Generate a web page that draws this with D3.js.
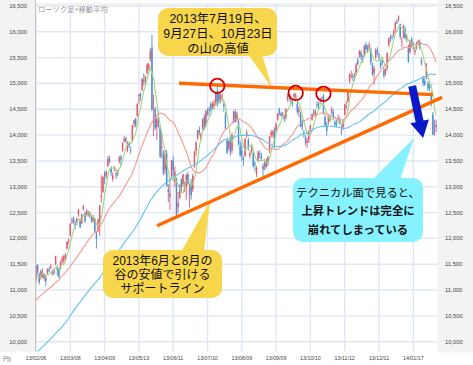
<!DOCTYPE html>
<html><head><meta charset="utf-8">
<script src="https://cdn.jsdelivr.net/npm/d3@7"></script>
<style>body{margin:0;background:#fff}svg{display:block}</style>
</head><body>
<svg id="c" width="473" height="365"></svg>
<script>
// ---- data: Nikkei 225 daily candles [date, open, high, low, close] ----
const candles = [
["13/02/06",11200,11498,11150,11463],["13/02/07",11480,11497,11300,11357],["13/02/08",11300,11340,11110,11153],
["13/02/12",11250,11400,11200,11369],["13/02/13",11330,11420,11230,11251],["13/02/14",11230,11330,11180,11307],
["13/02/15",11250,11300,11080,11173],["13/02/18",11330,11420,11300,11407],["13/02/19",11400,11450,11340,11372],
["13/02/20",11430,11500,11400,11468],["13/02/21",11360,11390,11280,11309],["13/02/22",11330,11420,11290,11385],
["13/02/25",11500,11662,11480,11662],["13/02/26",11450,11480,11280,11398],["13/02/27",11400,11430,11230,11254],
["13/02/28",11420,11565,11400,11559],
["13/03/01",11560,11660,11500,11606],["13/03/04",11580,11680,11520,11652],["13/03/05",11610,11720,11580,11683],
["13/03/06",11800,11950,11790,11932],["13/03/07",11960,12000,11880,11968],["13/03/08",12050,12290,12040,12283],
["13/03/11",12330,12400,12280,12349],["13/03/12",12390,12420,12280,12314],["13/03/13",12280,12340,12180,12239],
["13/03/14",12300,12400,12250,12381],["13/03/15",12460,12560,12420,12560],["13/03/18",12350,12400,12200,12220],
["13/03/19",12300,12480,12280,12468],["13/03/21",12560,12650,12540,12635],["13/03/22",12480,12520,12300,12338],
["13/03/25",12450,12560,12430,12546],["13/03/26",12520,12530,12420,12472],["13/03/27",12450,12520,12400,12494],
["13/03/28",12420,12450,12300,12336],["13/03/29",12340,12430,12310,12397],
["13/04/01",12380,12400,12110,12135],["13/04/02",12100,12150,11805,12003],["13/04/03",12150,12380,12120,12362],
["13/04/04",12280,12650,12050,12634],["13/04/05",12800,13225,12690,12833],["13/04/08",12900,13200,12880,13192],
["13/04/09",13250,13300,13050,13192],["13/04/10",13220,13320,13150,13288],["13/04/11",13400,13600,13380,13549],
["13/04/12",13550,13600,13450,13485],["13/04/15",13350,13400,13200,13275],["13/04/16",13150,13280,13100,13221],
["13/04/17",13350,13400,13300,13382],["13/04/18",13250,13300,13150,13220],["13/04/19",13250,13330,13200,13316],
["13/04/22",13500,13600,13450,13568],["13/04/23",13580,13620,13400,13529],["13/04/24",13700,13860,13680,13843],
["13/04/25",13880,13980,13850,13926],["13/04/26",13940,13970,13850,13884],["13/04/30",13700,13880,13670,13860],
["13/05/01",13830,13860,13750,13799],["13/05/02",13720,13780,13640,13694],["13/05/07",13880,14200,13870,14180],
["13/05/08",14230,14300,14150,14285],["13/05/09",14320,14330,14150,14191],["13/05/10",14380,14610,14350,14607],
["13/05/13",14760,14790,14600,14782],["13/05/14",14800,14830,14660,14758],["13/05/15",14880,15100,14850,15096],
["13/05/16",15070,15200,14960,15037],["13/05/17",15060,15150,14960,15138],["13/05/20",15200,15390,15180,15360],
["13/05/21",15300,15400,15250,15381],["13/05/22",15470,15680,15420,15627],["13/05/23",15700,15942,14484,14483],
["13/05/24",14600,14780,13980,14612],["13/05/27",14500,14550,14100,14142],["13/05/28",14150,14360,13900,14311],
["13/05/29",14350,14470,14150,14326],["13/05/30",14150,14200,13550,13589],["13/05/31",13750,14050,13550,13774],
["13/06/03",13650,13700,13220,13261],["13/06/04",13320,13710,13240,13614],["13/06/05",13640,13711,13000,13014],
["13/06/06",12950,13050,12700,12904],["13/06/07",12800,13150,12548,12877],["13/06/10",13200,13520,13180,13514],
["13/06/11",13500,13600,13200,13317],["13/06/12",13100,13390,13000,13289],["13/06/13",13150,13180,12415,12445],
["13/06/14",12600,12900,12500,12686],["13/06/17",12780,13050,12770,13033],["13/06/18",13150,13160,12900,13007],
["13/06/19",13050,13250,13000,13245],["13/06/20",12950,13100,12900,13014],["13/06/21",13000,13250,12750,13230],
["13/06/24",13250,13290,13030,13062],["13/06/25",12900,13060,12600,12969],["13/06/26",13050,13150,12750,12834],
["13/06/27",12950,13250,12900,13213],["13/06/28",13400,13700,13360,13677],
["13/07/01",13700,13880,13600,13852],["13/07/02",13950,14100,13900,14098],["13/07/03",14100,14170,14000,14055],
["13/07/04",13950,14050,13900,14018],["13/07/05",14150,14320,14100,14309],["13/07/08",14350,14400,14100,14109],
["13/07/09",14200,14480,14150,14472],["13/07/10",14450,14520,14380,14416],["13/07/11",14500,14550,14370,14472],
["13/07/12",14600,14640,14450,14506],["13/07/16",14550,14650,14500,14599],["13/07/17",14550,14680,14500,14615],
["13/07/18",14650,14850,14600,14808],["13/07/19",14850,14953,14550,14589],["13/07/22",14800,14850,14600,14658],
["13/07/23",14700,14800,14620,14778],["13/07/24",14700,14800,14650,14731],["13/07/25",14600,14650,14450,14562],
["13/07/26",14400,14450,14100,14129],["13/07/29",13900,13950,13630,13661],["13/07/30",13750,13900,13700,13869],
["13/07/31",13950,13960,13600,13668],
["13/08/01",13700,14050,13650,14005],["13/08/02",14250,14470,14230,14466],["13/08/05",14450,14500,14250,14258],
["13/08/06",14300,14450,14250,14401],["13/08/07",14250,14300,13800,13825],["13/08/08",13800,13900,13580,13605],
["13/08/09",13700,13850,13500,13615],["13/08/12",13550,13600,13400,13519],["13/08/13",13600,13950,13580,13925],
["13/08/14",14000,14100,13950,14050],["13/08/15",13900,13950,13700,13752],["13/08/16",13600,13700,13550,13650],
["13/08/19",13700,13800,13650,13758],["13/08/20",13650,13700,13380,13397],["13/08/21",13450,13500,13300,13424],
["13/08/22",13250,13400,13188,13366],["13/08/23",13500,13700,13480,13660],["13/08/26",13650,13700,13550,13636],
["13/08/27",13600,13650,13500,13542],["13/08/28",13400,13450,13200,13338],["13/08/29",13380,13500,13320,13459],
["13/08/30",13500,13550,13350,13389],
["13/09/02",13450,13600,13400,13573],["13/09/03",13700,13980,13650,13978],["13/09/04",14000,14100,13950,14053],
["13/09/05",14000,14100,13950,14065],["13/09/06",14100,14150,13750,13860],["13/09/09",14100,14250,14050,14205],
["13/09/10",14300,14430,14280,14423],["13/09/11",14500,14530,14380,14425],["13/09/12",14420,14450,14350,14387],
["13/09/13",14400,14450,14320,14404],["13/09/17",14350,14400,14250,14311],["13/09/18",14350,14520,14300,14505],
["13/09/19",14700,14800,14650,14766],["13/09/20",14780,14800,14650,14742],["13/09/24",14700,14780,14600,14733],
["13/09/25",14650,14700,14550,14620],["13/09/26",14700,14810,14680,14799],["13/09/27",14720,14817,14650,14760],
["13/09/30",14600,14650,14400,14455],
["13/10/01",14450,14550,14350,14484],["13/10/02",14400,14450,14150,14170],["13/10/03",14250,14300,14100,14157],
["13/10/04",14050,14100,13950,14024],["13/10/07",13950,14000,13800,13853],["13/10/08",13850,13950,13750,13894],
["13/10/09",13900,14100,13850,14037],["13/10/10",14100,14200,14050,14194],["13/10/11",14300,14420,14280,14404],
["13/10/15",14450,14500,14380,14441],["13/10/16",14400,14500,14350,14467],["13/10/17",14600,14650,14520,14586],
["13/10/18",14600,14650,14500,14561],["13/10/21",14650,14720,14600,14693],["13/10/22",14700,14750,14650,14713],
["13/10/23",14750,14799,14400,14426],["13/10/24",14350,14400,14150,14200],["13/10/25",14200,14250,13990,14088],
["13/10/28",14250,14400,14200,14396],["13/10/29",14350,14400,14250,14325],["13/10/30",14450,14550,14400,14502],
["13/10/31",14450,14500,14300,14327],
["13/11/01",14250,14300,14150,14201],["13/11/05",14250,14300,14150,14225],["13/11/06",14300,14400,14250,14337],
["13/11/07",14300,14350,14200,14228],["13/11/08",14100,14200,14000,14086],["13/11/11",14150,14300,14100,14269],
["13/11/12",14400,14600,14380,14588],["13/11/13",14550,14650,14500,14567],["13/11/14",14650,14900,14620,14876],
["13/11/15",15050,15200,15000,15165],["13/11/18",15150,15250,15100,15164],["13/11/19",15150,15200,15050,15128],
["13/11/20",15080,15200,15050,15126],["13/11/21",15200,15400,15150,15365],["13/11/22",15450,15500,15350,15381],
["13/11/25",15550,15650,15500,15619],["13/11/26",15600,15650,15450,15515],["13/11/27",15500,15550,15400,15450],
["13/11/28",15550,15750,15520,15727],["13/11/29",15750,15800,15600,15661],
["13/12/02",15700,15750,15600,15655],["13/12/03",15700,15800,15650,15749],["13/12/04",15650,15700,15350,15407],
["13/12/05",15350,15400,15150,15177],["13/12/06",15200,15350,14980,15299],["13/12/09",15500,15680,15480,15650],
["13/12/10",15650,15700,15550,15610],["13/12/11",15550,15600,15450,15515],["13/12/12",15400,15450,15300,15341],
["13/12/13",15450,15500,15350,15403],["13/12/16",15250,15300,15100,15152],["13/12/17",15200,15300,15150,15279],
["13/12/18",15300,15600,15250,15586],["13/12/19",15750,15900,15700,15859],["13/12/20",15900,15950,15800,15870],
["13/12/24",15900,15950,15850,15889],["13/12/25",15950,16050,15900,16009],["13/12/26",16050,16200,16000,16174],
["13/12/27",16200,16250,16150,16178],["13/12/30",16250,16320,16200,16291],
["14/01/06",16150,16160,15850,15908],["14/01/07",15800,15900,15700,15814],["14/01/08",15900,16140,15880,16121],
["14/01/09",16050,16100,15850,15880],["14/01/10",15900,15950,15800,15912],["14/01/14",15700,15750,15400,15422],
["14/01/15",15600,15850,15580,15808],["14/01/16",15850,15900,15700,15747],["14/01/17",15750,15800,15650,15734],
["14/01/20",15600,15700,15550,15641],["14/01/21",15700,15800,15650,15796],["14/01/22",15800,15850,15750,15821],
["14/01/23",15800,15850,15650,15695],["14/01/24",15450,15500,15350,15391],["14/01/27",15100,15150,14950,15006],
["14/01/28",15050,15100,14950,14980],["14/01/29",15100,15400,15080,15384],["14/01/30",15000,15050,14850,14900],
["14/01/31",14950,15000,14850,14915],
["14/02/03",14800,14850,14550,14619],["14/02/04",14400,14450,14000,14008],["14/02/05",14150,14300,13995,14180],
["14/02/06",14200,14300,14050,14155]
];
// closes before the first candle (needed for the moving averages)
const priorCloses = [8701,8806,8982,9002,9010,8931,8955,9055,8933,8929,8841,8928,
 8946,9007,8975,8975,8972,8837,8757,8676,8661,8664,8830,9024,9153,9142,9222,9366,9389,9423,9308,9400,9446,
 9458,9432,9468,9545,9527,9533,9525,9581,9742,9737,9828,9923,10160,10039,9940,10080,10230,10322,10395,
 10688,10599,10508,10578,10652,10801,10879,10600,10610,10913,10747,10709,10487,10620,10926,10824,10866,11113,11138,
 11191,11260,11046];
const maPeriods = [5, 25, 75];
const xTickLabels = ["13/02/06","13/03/08","13/04/09","13/05/13","13/06/11","13/07/10","13/08/09","13/09/09","13/10/10","13/11/12","13/12/11","14/01/17"];
const yTicks = [10000,10500,11000,11500,12000,12500,13000,13500,14000,14500,15000,15500,16000,16500];
// annotation anchors in data coordinates [index, price]
const resistanceLine = [[87.6,15003],[243.1,14783]];
const supportLine = [[74.1,12246],[248.6,14730]];
const circledDates = ["13/07/19","13/09/27","13/10/23"];
const arrowLine = [[230.3,14951],[237,13944]];
const note1 = ["2013年7月19日、","9月27日、10月23日","の山の高値"];
const note2 = ["2013年6月と8月の","谷の安値で引ける","サポートライン"];
const note3 = ["テクニカル面で見ると、","上昇トレンドは完全に","崩れてしまっている"];

// ---- drawing ----
const svg = d3.select("#c");
const L = 36, R = 437.5, T = 4, B = 351.5;
const x = d3.scaleLinear().domain([0, 231]).range([36, 413.3]);
const y = d3.scaleLinear().domain([10000, 16500]).range([341.7, 6]);

svg.append("rect").attr("width",473).attr("height",365).attr("fill","#fff");
svg.append("rect").attr("x",0).attr("y",0).attr("width",L).attr("height",B).attr("fill","#f3f3f1");
svg.append("rect").attr("x",R).attr("y",0).attr("width",473-R).attr("height",B+1).attr("fill","#f3f3f1");
svg.append("rect").attr("x",L).attr("y",T).attr("width",R-L).attr("height",B-T).attr("fill","#fff");

svg.append("defs").append("clipPath").attr("id","clip")
  .append("rect").attr("x",L).attr("y",T).attr("width",R-L).attr("height",B-T);

const grid = svg.append("g").attr("stroke","#dfe7f5").attr("stroke-width",1.4);
yTicks.forEach(v => grid.append("line").attr("x1",L).attr("x2",R).attr("y1",y(v)).attr("y2",y(v)));
const idxOf = d => candles.findIndex(c => c[0] === d);
xTickLabels.forEach(d => { const xi = x(idxOf(d)); grid.append("line").attr("x1",xi).attr("x2",xi).attr("y1",T).attr("y2",B); });
svg.append("line").attr("x1",L-0.5).attr("x2",L-0.5).attr("y1",0).attr("y2",B).attr("stroke","#c4c4c4").attr("stroke-width",1);
svg.append("line").attr("x1",L).attr("x2",R).attr("y1",T).attr("y2",T).attr("stroke","#e4e4e4").attr("stroke-width",1);

const plot = svg.append("g").attr("clip-path","url(#clip)");
const upC = "#e2566b", dnC = "#4b8ed0";
const cg = plot.append("g");
candles.forEach((c,i) => {
  const [d,o,h,l,cl] = c; const col = cl >= o ? upC : dnC; const xi = x(i);
  cg.append("line").attr("x1",xi).attr("x2",xi).attr("y1",y(h)).attr("y2",y(l)).attr("stroke",col).attr("stroke-width",0.9);
  const y0 = y(Math.max(o,cl)), y1 = y(Math.min(o,cl));
  cg.append("rect").attr("x",xi-0.7).attr("width",1.4).attr("y",y0).attr("height",Math.max(0.8,y1-y0)).attr("fill",col);
});

const allCloses = priorCloses.concat(candles.map(c => c[4]));
const P = priorCloses.length;
const maColors = {5:"#9fd77f", 25:"#f39a8f", 75:"#62c3ec"};
maPeriods.forEach(n => {
  const pts = candles.map((c,i) => [i, d3.mean(allCloses.slice(P+i-n+1, P+i+1))]);
  plot.append("path").datum(pts).attr("fill","none").attr("stroke",maColors[n]).attr("stroke-width",1.1)
    .attr("d", d3.line().x(p => x(p[0])).y(p => y(p[1])));
});

// axis labels
const fmt = d3.format(",");
const ax = svg.append("g").attr("font-family","Liberation Sans, Arial, sans-serif").attr("font-size",5.8).attr("fill","#444");
yTicks.forEach(v => {
  ax.append("text").attr("x",27).attr("y",y(v)+2).attr("text-anchor","end").text(fmt(v));
  ax.append("text").attr("x",445).attr("y",y(v)+2).text(fmt(v));
});
xTickLabels.forEach(d => ax.append("text").attr("x",x(idxOf(d))).attr("y",360).attr("text-anchor","middle").attr("font-size",5.3).text(d));
ax.append("text").attr("x",3).attr("y",360.5).text("円)");
svg.append("text").attr("x",38).attr("y",12).attr("font-family","Noto Sans CJK JP").attr("font-size",7.3).attr("fill","#999").text("ローソク足+移動平均");

// callouts (each note is one multi-line text element)
function callout(bx,by,bw,bh,tail,fill,lines,cx,base,gap,size,weights){
  const g = svg.append("g");
  g.append("rect").attr("x",bx).attr("y",by).attr("width",bw).attr("height",bh).attr("rx",10).attr("fill",fill);
  g.append("path").attr("d","M"+tail.map(p=>p.join(",")).join("L")+"Z").attr("fill",fill);
  const t = g.append("text").attr("text-anchor","middle").attr("font-family","Liberation Sans, Noto Sans CJK JP")
    .attr("font-size",size).attr("fill","#111").attr("y",base);
  lines.forEach((s,k) => t.append("tspan").attr("x",cx).attr("dy",k===0?0:gap).attr("font-weight",weights[k]).text(s));
}
callout(158,8,119,48,[[248,54],[262,54],[272,88]],"#f7d64c",note1,218,22.5,15,12.3,[400,400,400]);
callout(103,250,119,48,[[181,252],[204,252],[210,201]],"#f7d64c",note2,162.5,265,14,12,[400,400,400]);
callout(293,178,130,64,[[372,180],[400,180],[414,138]],"#86f2ff",note3,358,196.5,18.5,11.3,[400,700,700]);

// lines & circles
const ln = d3.line().x(p => x(p[0])).y(p => y(p[1]));
svg.append("path").attr("d",ln(resistanceLine)).attr("stroke","#ff6a00").attr("stroke-width",3.4).attr("fill","none");
svg.append("path").attr("d",ln(supportLine)).attr("stroke","#ff6a00").attr("stroke-width",3.4).attr("fill","none");
circledDates.forEach(d => { const i = idxOf(d);
  svg.append("circle").attr("cx",x(i)).attr("cy",y(candles[i][2])).attr("r",7.2).attr("fill","none").attr("stroke","#d10000").attr("stroke-width",1.8); });

// arrow
(function(){
  const x0=x(arrowLine[0][0]), y0=y(arrowLine[0][1]), x1=x(arrowLine[1][0]), y1=y(arrowLine[1][1]);
  const dx=x1-x0, dy=y1-y0, len=Math.hypot(dx,dy), ux=dx/len, uy=dy/len, px=-uy, py=ux;
  const sw=4, hw=9.5, hl=17; const bx=x1-ux*hl, by=y1-uy*hl;
  const pts=[[x0+px*sw,y0+py*sw],[bx+px*sw,by+py*sw],[bx+px*hw,by+py*hw],[x1,y1],[bx-px*hw,by-py*hw],[bx-px*sw,by-py*sw],[x0-px*sw,y0-py*sw]];
  svg.append("path").attr("d","M"+pts.map(p=>p.join(",")).join("L")+"Z").attr("fill","#0a18c8");
})();
</script>
</body></html>
